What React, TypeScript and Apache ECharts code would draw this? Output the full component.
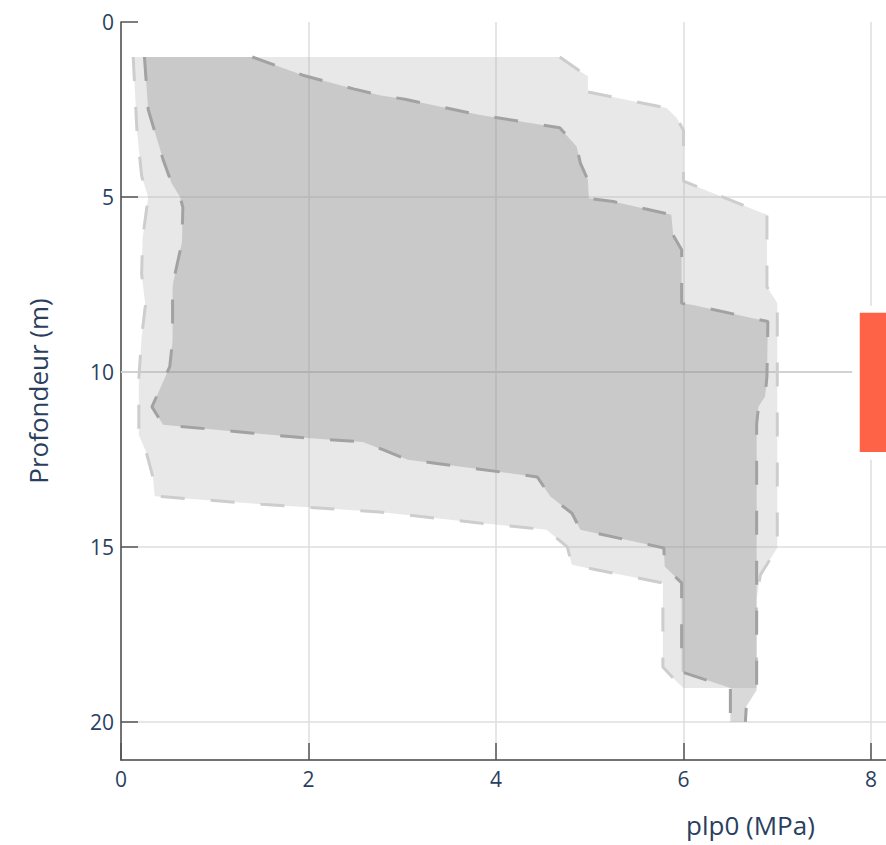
import React, { useEffect, useRef } from "react";
import * as echarts from "echarts";

// [plp0 (MPa), depth (m)] pairs
const outerLeft: number[][] = [
  [0.13, 1.0], [0.17, 3.1], [0.22, 4.4], [0.29, 5.0], [0.23, 6.2], [0.22, 7.2],
  [0.26, 8.1], [0.22, 9.0], [0.19, 10.2], [0.19, 11.8], [0.27, 12.3], [0.34, 13.0],
  [0.36, 13.55], [1.5, 13.78], [2.76, 14.0], [3.8, 14.31], [4.36, 14.46], [4.54, 14.51],
  [4.76, 15.0], [4.81, 15.51], [4.97, 15.6], [5.78, 16.03], [5.78, 18.43], [5.94, 18.89],
  [6.0, 19.03],
];
const outerRight: number[][] = [
  [4.68, 1.0], [4.91, 1.43], [4.98, 1.55], [4.98, 2.0], [5.82, 2.46], [5.93, 2.75],
  [6.0, 3.1], [6.0, 4.55], [6.89, 5.51], [6.89, 7.57], [7.0, 8.03], [7.0, 15.03],
  [6.82, 15.8], [6.78, 16.5], [6.78, 19.03],
];
const innerLeft: number[][] = [
  [0.25, 1.0], [0.27, 1.75], [0.29, 2.5], [0.45, 3.94], [0.54, 4.61], [0.63, 5.0],
  [0.66, 5.3], [0.65, 6.3], [0.56, 7.4], [0.55, 7.6], [0.55, 9.1], [0.52, 9.85],
  [0.33, 11.0], [0.45, 11.51], [1.41, 11.75], [1.98, 11.89], [2.58, 12.0], [2.8, 12.23],
  [3.06, 12.51], [3.33, 12.6], [4.44, 13.0], [4.58, 13.56], [4.81, 14.04], [4.9, 14.51],
  [5.79, 15.03], [5.8, 15.56], [5.98, 16.03], [5.98, 18.57], [6.5, 19.03], [6.5, 20.0],
];
const innerRight: number[][] = [
  [1.4, 1.0], [1.94, 1.52], [2.48, 1.91], [2.76, 2.09], [3.03, 2.21], [3.83, 2.66],
  [4.68, 3.02], [4.86, 3.56], [4.9, 4.03], [4.98, 4.51], [4.99, 5.04], [5.25, 5.13],
  [5.87, 5.51], [5.89, 6.09], [5.98, 6.51], [5.98, 8.04], [6.1, 8.09], [6.9, 8.56],
  [6.89, 10.13], [6.87, 10.7], [6.8, 10.99], [6.78, 11.5], [6.78, 19.09], [6.67, 19.56],
  [6.66, 20.0],
];
const refDepthLine: number[][] = [[0, 10], [7.8, 10]];
const markerBoxX = [7.8, 8.6];
const markerBoxDepth = [8.11, 12.51];
const markerBarX = [7.88, 8.6];
const markerBarDepth = [8.31, 12.29];

const xTickValues = [0, 2, 4, 6, 8];
const yTickValues = [0, 5, 10, 15, 20];
const xTitle = "plp0 (MPa)";
const yTitle = "Profondeur (m)";

const FONT = "'Open Sans', 'DejaVu Sans', sans-serif";
const TEXT = "#2a3f5f";

export default function App() {
  const ref = useRef<HTMLDivElement>(null);
  useEffect(() => {
    const chart = echarts.init(ref.current!, null, { renderer: "svg" });

    const polygon = (left: number[][], right: number[][], fill: string, z: number) => ({
      type: "custom",
      coordinateSystem: "cartesian2d",
      data: [[left[0][0], left[0][1]]],
      silent: true,
      z,
      renderItem: (_p: any, api: any) => {
        const pts = [...left, ...right.slice().reverse()].map((p) => api.coord(p));
        return { type: "polygon", shape: { points: pts }, style: { fill } };
      },
    });
    const dashed = (data: number[][], color: string, z: number) => ({
      type: "line",
      data,
      symbol: "none",
      silent: true,
      z,
      lineStyle: { color, width: 3, type: [24, 26] },
    });

    chart.setOption({
      animation: false,
      grid: { left: 121, top: 22, right: 0, bottom: 85 },
      xAxis: {
        type: "value",
        position: "bottom",
        min: 0,
        max: 8.16,
        interval: 2,
        axisLine: { show: true, onZero: false, lineStyle: { color: "#444", width: 1.5 } },
        axisTick: { show: true, inside: true, length: 17, lineStyle: { color: "#555", width: 1.5 } },
        axisLabel: {
          color: TEXT,
          fontSize: 21,
          fontFamily: FONT,
          margin: 8,
          showMaxLabel: false,
          formatter: (v: number) => (xTickValues.includes(v) ? String(v) : ""),
        },
        splitLine: { show: true, showMinLine: false, showMaxLine: false, lineStyle: { color: "#dedede", width: 1.5 } },
      },
      yAxis: {
        type: "value",
        position: "left",
        inverse: true,
        min: 0,
        max: 21.09,
        interval: 5,
        axisLine: { show: true, onZero: false, lineStyle: { color: "#444", width: 1.5 } },
        axisTick: { show: true, inside: true, length: 17, lineStyle: { color: "#555", width: 1.5 } },
        axisLabel: {
          color: TEXT,
          fontSize: 21,
          fontFamily: FONT,
          margin: 7,
          showMaxLabel: false,
          formatter: (v: number) => (yTickValues.includes(v) ? String(v) : ""),
        },
        splitLine: { show: true, showMinLine: false, showMaxLine: false, lineStyle: { color: "#dedede", width: 1.5 } },
      },
      graphic: [
        {
          type: "text",
          left: 686,
          top: 812,
          style: { text: xTitle, fill: TEXT, font: `26px ${FONT}` },
        },
        {
          type: "text",
          x: 38,
          y: 391,
          rotation: Math.PI / 2,
          style: { text: yTitle, fill: TEXT, font: `26px ${FONT}`, align: "center", verticalAlign: "middle" },
        },
      ],
      series: [
        {
          type: "line",
          data: refDepthLine,
          symbol: "none",
          silent: true,
          z: 1,
          lineStyle: { color: "#d2d2d2", width: 2 },
        },
        polygon(outerLeft, outerRight, "rgba(178,178,178,0.3)", 2),
        dashed(outerLeft, "#cdcdcd", 3),
        dashed(outerRight, "#cdcdcd", 3),
        polygon(innerLeft, innerRight, "rgba(128,128,128,0.3)", 4),
        dashed(innerLeft, "#a2a2a2", 5),
        dashed(innerRight, "#a2a2a2", 5),
        {
          type: "custom",
          coordinateSystem: "cartesian2d",
          data: [[markerBarX[0], markerBarDepth[0]]],
          silent: true,
          z: 6,
          renderItem: (_p: any, api: any) => {
            const b0 = api.coord([markerBoxX[0], markerBoxDepth[0]]);
            const b1 = api.coord([markerBoxX[1], markerBoxDepth[1]]);
            const r0 = api.coord([markerBarX[0], markerBarDepth[0]]);
            const r1 = api.coord([markerBarX[1], markerBarDepth[1]]);
            return {
              type: "group",
              children: [
                { type: "rect", shape: { x: b0[0], y: b0[1], width: b1[0] - b0[0], height: b1[1] - b0[1] }, style: { fill: "#ffffff" } },
                { type: "rect", shape: { x: r0[0], y: r0[1], width: r1[0] - r0[0], height: r1[1] - r0[1] }, style: { fill: "#ff6347" } },
              ],
            };
          },
        },
      ],
    });
    return () => chart.dispose();
  }, []);

  return (
    <div
      ref={ref}
      style={{ position: "absolute", left: 0, top: 0, width: 886, height: 845, background: "#fff" }}
    />
  );
}
